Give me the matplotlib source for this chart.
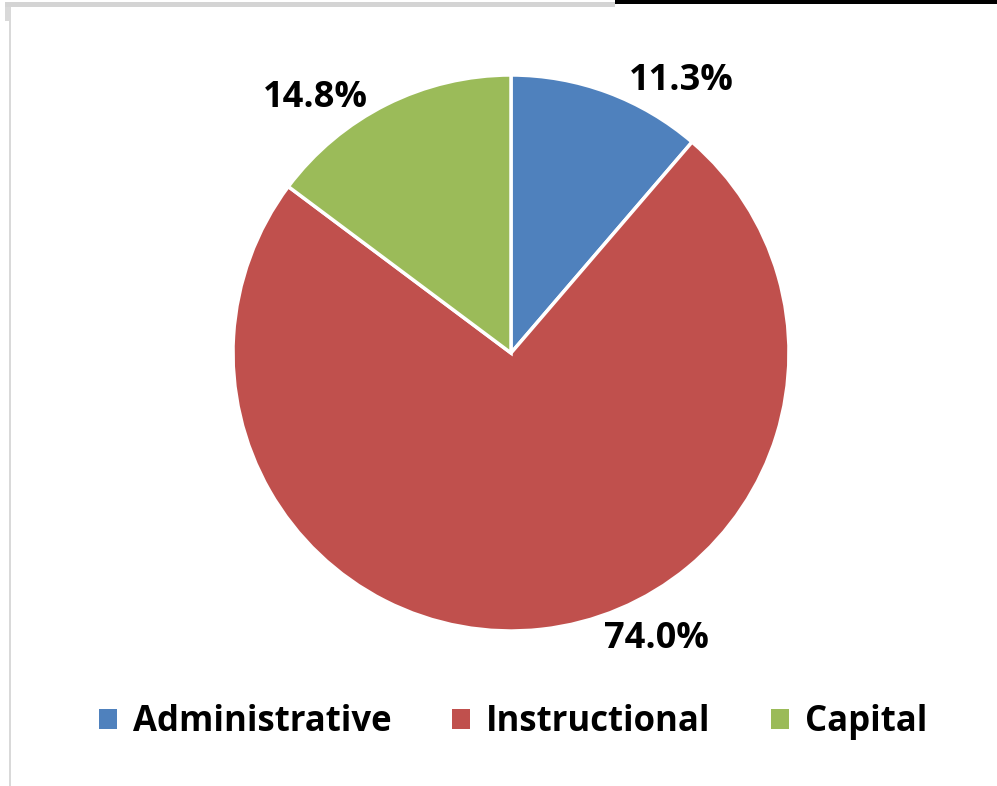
import numpy as np
import matplotlib
matplotlib.use("Agg")
import matplotlib.pyplot as plt
from matplotlib.patches import Patch, Rectangle

categories = ["Administrative", "Instructional", "Capital"]
values = [11.3, 74.0, 14.8]
colors = ["#4F81BD", "#C0504D", "#9BBB59"]

W, H = 997, 786
fig = plt.figure(figsize=(W / 100, H / 100), dpi=100)
fig.patch.set_facecolor("white")

# frame decorations (screenshot borders)
fig.patches.append(Rectangle((5 / W, 1 - 21 / H), 5 / W, 21 / H - 7 / H, transform=fig.transFigure,
                             facecolor="#d9d9d9", edgecolor="none"))
fig.patches.append(Rectangle((5 / W, 1 - 7 / H), 610 / W, 5 / H, transform=fig.transFigure,
                             facecolor="#d4d4d4", edgecolor="none"))
fig.patches.append(Rectangle((615 / W, 1 - 4 / H), (W - 615) / W, 4 / H, transform=fig.transFigure,
                             facecolor="black", edgecolor="none"))
fig.patches.append(Rectangle((9 / W, 0), 2 / W, 1 - 7 / H, transform=fig.transFigure,
                             facecolor="#d9d9d9", edgecolor="none"))

cx, cy, r = 511, 353, 278
ax = fig.add_axes([(cx - r) / W, (H - cy - r) / H, 2 * r / W, 2 * r / H])
wedges, _ = ax.pie(values, colors=colors, startangle=90, counterclock=False,
                   wedgeprops=dict(edgecolor="white", linewidth=2.5))
ax.set_xlim(-1, 1)
ax.set_ylim(-1, 1)
ax.set_aspect("equal")
ax.axis("off")

label_angles = [58, -63, 127.5]
label_r = 1.155
for v, a in zip(values, label_angles):
    t = np.deg2rad(a)
    ax.text(label_r * np.cos(t), label_r * np.sin(t), f"{v:.1f}%",
            ha="center", va="center", fontsize=26, fontweight="bold",
            family="Open Sans", color="black", clip_on=False)

handles = [Patch(facecolor=c, edgecolor="none") for c in colors]
fig.legend(handles, categories, loc="center", bbox_to_anchor=(513 / W, 1 - 722 / H),
           ncol=3, frameon=False, prop=dict(family="Open Sans", weight="bold", size=25),
           handlelength=0.52, handleheight=0.52, handletextpad=0.45, columnspacing=1.75)

fig.savefig("out.png", dpi=100)
